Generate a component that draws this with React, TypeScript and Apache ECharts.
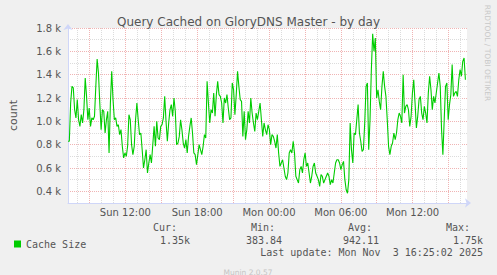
import React, { useEffect, useRef } from "react";
import * as echarts from "echarts";

// Time of the first sample, minutes after Sun 00:00, and spacing of the samples (minutes)
const START_MIN = 432.5;
const STEP_MIN = 6.64;
const SPAN_MIN = 2000; // 400 px * 5 min

const cacheSize = [
  829, 829, 1157, 1300, 1286, 1100, 1029, 1186, 1014, 957, 1057, 986, 1100, 1371, 1214, 1014, 1114, 957, 1029, 1014,
  1043, 1300, 1534, 1414, 1157, 929, 1100, 1086, 900, 1014, 1086, 729, 1157, 1429, 1186, 1014, 1029, 957, 971, 886,
  929, 786, 686, 729, 700, 786, 1057, 1014, 800, 714, 786, 1014, 1157, 1014, 886, 900, 757, 600, 671, 757,
  557, 643, 714, 643, 800, 957, 786, 1000, 857, 843, 957, 971, 1029, 1214, 1000, 829, 986, 1100, 1143, 1043,
  1200, 1086, 800, 814, 871, 1014, 929, 814, 771, 843, 729, 871, 957, 1029, 900, 729, 714, 629, 714, 800,
  757, 714, 786, 886, 857, 1343, 1157, 986, 1100, 1071, 1243, 1043, 1229, 1343, 1229, 1214, 1157, 986, 1200, 1157,
  1229, 1114, 1014, 1029, 1329, 1271, 1057, 1229, 1429, 1300, 1186, 1171, 871, 1086, 843, 929, 1086, 986, 1200, 1071,
  986, 914, 1071, 1014, 1086, 1157, 1014, 871, 986, 929, 886, 971, 929, 800, 886, 871, 829, 771, 886, 729, 614,
  643, 671, 600, 529, 500, 557, 729, 757, 729, 829, 729, 529, 500, 471, 586, 614, 557, 671, 729,
  614, 643, 557, 471, 529, 614, 643, 557, 529, 500, 443, 543, 529, 471, 500, 529, 557, 529, 457, 500,
  471, 557, 643, 671, 671, 643, 586, 629, 657, 500, 414, 384, 500,
  986, 757, 643, 900, 886, 1014, 1143, 900, 829, 743, 757, 986, 1300, 1329, 757, 1014, 1443, 1750, 1600, 1714, 1200,
  1271, 1171, 1100, 1300, 1429, 1300, 1214, 1014, 786, 714, 786, 814, 900, 843, 900, 1014, 1071, 1043, 986, 1400,
  1071, 1129, 1143, 1100, 957, 1043,
  1243, 1357, 1157, 943, 1043, 1186, 1214, 1071, 1014, 1129, 1071, 986, 1243, 1386, 1271, 1100, 1214, 1157, 1243, 1329,
  1414, 1300, 929, 714, 1014, 1300, 1329, 1014, 1143, 1229, 1486, 1214, 1243, 1257, 1214, 1357, 1443, 1386, 1514, 1543, 1357,
];

const xLabelMinutes = [720, 1080, 1440, 1800, 2160];
const xLabels = ["Sun 12:00", "Sun 18:00", "Mon 00:00", "Mon 06:00", "Mon 12:00"];

const Y_MIN = 300;
const Y_MAX = 1800;

const statHeaders = ["Cur:", "Min:", "Avg:", "Max:"];
const statValues = ["1.35k", "383.84", "942.11", "1.75k"];
const lastUpdate = "Last update: Mon Nov  3 16:25:02 2025";

const TEXT = "#555555";
const SANS = '"DejaVu Sans", sans-serif';
const MONO = '"DejaVu Sans Mono", monospace';
const GRID_MINOR = "#dcdcdc";
const GRID_MAJOR = "#f0b4b4";
const AXIS = "#CFD6F8";

export default function App() {
  const ref = useRef<HTMLDivElement>(null);

  useEffect(() => {
    if (!ref.current) return;
    const chart = echarts.init(ref.current, null, { renderer: "svg" });

    const points = cacheSize.map((v, i) => [START_MIN + i * STEP_MIN, v]);
    const hourTicks: number[] = [];
    for (let m = Math.ceil(START_MIN / 60) * 60; m < START_MIN + SPAN_MIN; m += 60) hourTicks.push(m);
    // colour pattern: major line every 3 hours
    const firstHour = hourTicks[0] / 60;
    const pattern = [0, 1, 2].map((k) => ((firstHour + k) % 3 === 0 ? GRID_MAJOR : GRID_MINOR));

    const headerRight = [177, 275, 372, 470];
    const valueRight = [190, 282, 379, 483];

    const graphic: any[] = [];
    statHeaders.forEach((h, i) =>
      graphic.push({
        type: "text",
        x: headerRight[i],
        y: 227,
        style: { text: h, font: `10px ${MONO}`, fill: TEXT, textAlign: "right", textVerticalAlign: "middle" },
      })
    );
    statValues.forEach((h, i) =>
      graphic.push({
        type: "text",
        x: valueRight[i],
        y: 240,
        style: { text: h, font: `10px ${MONO}`, fill: TEXT, textAlign: "right", textVerticalAlign: "middle" },
      })
    );
    graphic.push({
      type: "text",
      x: 483,
      y: 252,
      style: { text: lastUpdate, font: `10px ${MONO}`, fill: TEXT, textAlign: "right", textVerticalAlign: "middle" },
    });
    graphic.push({
      type: "text",
      x: 248,
      y: 272,
      style: { text: "Munin 2.0.57", font: `7.5px ${SANS}`, fill: "#c4c4c4", textAlign: "center", textVerticalAlign: "middle" },
    });
    graphic.push({
      type: "text",
      x: 487,
      y: 53,
      rotation: -Math.PI / 2,
      style: {
        text: "RRDTOOL / TOBI OETIKER",
        font: `7.5px ${SANS}`,
        fill: "#c8c8c8",
        textAlign: "center",
        textVerticalAlign: "middle",
      },
    });

    chart.setOption({
      animation: false,
      backgroundColor: "#F0F0F0",
      title: {
        text: "Query Cached on GloryDNS Master - by day",
        left: "center",
        top: 11,
        textStyle: { fontFamily: SANS, fontSize: 12, fontWeight: "normal", color: TEXT },
      },
      grid: {
        left: 67,
        top: 28,
        width: 400,
        height: 175,
        show: true,
        backgroundColor: "#ffffff",
        borderWidth: 0,
      },
      legend: {
        left: 9,
        top: 234,
        icon: "rect",
        itemWidth: 7,
        itemHeight: 7,
        itemGap: 10,
        textStyle: { fontFamily: MONO, fontSize: 10, color: TEXT },
        data: [{ name: "Cache Size", itemStyle: { color: "#00CC00" } }],
      },
      xAxis: {
        type: "value",
        min: START_MIN,
        max: START_MIN + SPAN_MIN,
        axisLine: {
          show: true,
          lineStyle: { color: AXIS, width: 1 },
          symbol: ["none", "arrow"],
          symbolSize: [7, 6],
          symbolOffset: [0, 4],
        },
        axisTick: { show: false, customValues: hourTicks },
        splitLine: {
          show: true,
          lineStyle: { color: pattern, width: 1, type: [1, 1] },
        },
        axisLabel: {
          customValues: xLabelMinutes,
          formatter: (v: number) => {
            const i = xLabelMinutes.indexOf(Math.round(v));
            return i >= 0 ? xLabels[i] : "";
          },
          color: TEXT,
          fontFamily: SANS,
          fontSize: 10,
          margin: 4,
        },
      },
      yAxis: {
        type: "value",
        min: Y_MIN,
        max: Y_MAX,
        interval: 100,
        name: "count",
        nameLocation: "middle",
        nameGap: 49,
        nameTextStyle: { fontFamily: SANS, fontSize: 11, color: TEXT },
        axisLine: {
          show: true,
          lineStyle: { color: AXIS, width: 1 },
          symbol: ["none", "arrow"],
          symbolSize: [7, 6],
          symbolOffset: [0, 4],
        },
        axisTick: { show: false },
        splitLine: {
          show: true,
          lineStyle: { color: [GRID_MINOR, GRID_MAJOR], width: 1, type: [1, 1] },
        },
        axisLabel: {
          formatter: (v: number) => (v % 200 === 0 ? (v / 1000).toFixed(1) + " k" : ""),
          color: TEXT,
          fontFamily: SANS,
          fontSize: 10,
          margin: 7,
        },
      },
      series: [
        {
          type: "line",
          name: "Cache Size",
          data: points,
          showSymbol: false,
          symbol: "none",
          lineStyle: { color: "#00CC00", width: 1.1 },
          itemStyle: { color: "#00CC00" },
          z: 3,
        },
      ],
      graphic,
    });

    return () => chart.dispose();
  }, []);

  return (
    <div
      ref={ref}
      style={{ position: "fixed", left: 0, top: 0, width: 497, height: 275, background: "#F0F0F0" }}
    />
  );
}
